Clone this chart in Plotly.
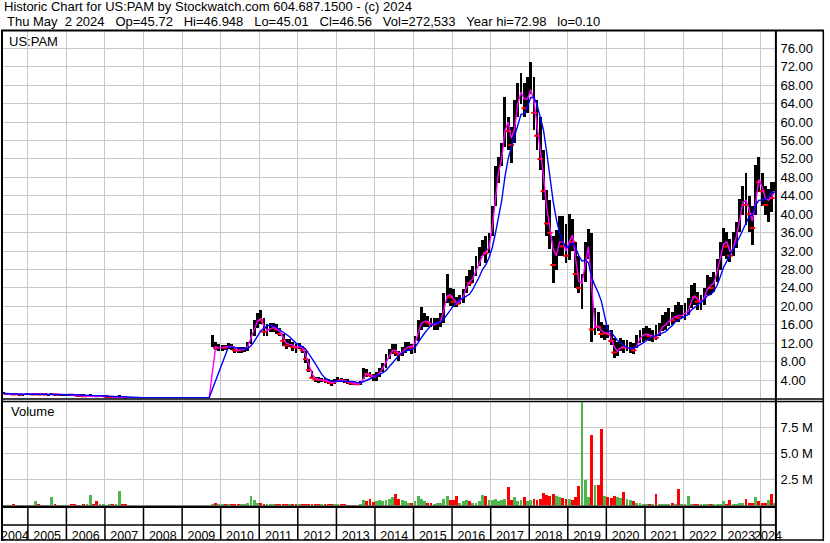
import pandas as pd
import plotly.graph_objects as go

# ---------------- data (monthly) ----------------
START_MONTH = "2004-05"
N = None
GAP = [N] * 5 + [N] * 12 + [N] * 9   # Aug 2007 .. Sep 2009: no trades

HIGH = (
    [1.4, 1.3, 1.3, 1.2, 1.2, 1.1, 1.1, 1.2] +
    [1.2, 1.2, 1.3, 1.2, 1.2, 1.1, 1.1, 1.2, 1.1, 1.1, 1.0, 1.0] +
    [1.0, 1.0, 1.0, 0.9, 0.9, 0.9, 0.8, 0.9, 0.8, 0.8, 0.8, 0.8] +
    [0.7, 0.6, 0.6, 0.6, 0.7, 0.5, 0.5] + GAP +
    [13.8, 12.2, 11.8] +
    [11.7, 11.6, 12.0, 11.8, 11.3, 11.1, 11.2, 11.2, 12.4, 15.2, 17.0, 18.6] +
    [19.3, 17.6, 16.2, 16.5, 16.5, 16.2, 15.4, 14.0, 12.9, 12.9, 12.2, 11.8] +
    [12.0, 11.5, 10.4, 8.6, 6.0, 4.8, 4.6, 4.5, 4.5, 4.2, 4.0, 4.2] +
    [4.6, 4.5, 4.2, 4.2, 3.9, 3.9, 3.7, 3.9, 6.7, 6.4, 5.8, 5.3] +
    [5.7, 6.7, 7.8, 9.6, 10.7, 11.8, 11.8, 10.4, 11.1, 12.2, 12.2, 11.8] +
    [13.5, 17.0, 19.8, 18.5, 18.0, 17.5, 17.5, 17.5, 18.5, 23.0, 27.0, 24.0] +
    [23.7, 22.0, 22.6, 23.7, 26.6, 28.0, 28.8, 31.0, 33.0, 34.5, 35.3, 36.0] +
    [41.7, 50.4, 52.5, 55.4, 65.5, 61.2, 59.0, 64.8, 68.4, 70.6, 68.4, 69.8] +
    [72.98, 69.8, 64.8, 61.2, 54.0, 45.3, 43.2, 35.3, 36.7, 39.6, 39.6, 38.0] +
    [40.0, 39.0, 34.0, 31.0, 27.0, 34.0, 36.9, 36.0, 19.6, 18.9, 16.7, 16.0] +
    [16.0, 15.0, 13.2, 12.4, 13.2, 12.8, 12.8, 12.4, 12.0, 13.9, 15.0, 15.3] +
    [15.7, 15.3, 15.0, 16.0, 16.4, 18.2, 18.9, 19.6, 18.9, 20.3, 21.0, 20.3] +
    [20.7, 21.8, 24.7, 25.0, 23.2, 22.5, 24.0, 26.8, 26.4, 27.5, 30.4, 34.0] +
    [37.0, 36.2, 34.7, 36.2, 38.3, 43.4, 46.2, 49.0, 44.0, 41.9, 50.6, 52.4] +
    [49.0, 46.2, 45.5, 47.0, 46.948]
)

LOW = (
    [0.9, 0.8, 0.8, 0.8, 0.7, 0.7, 0.7, 0.8] +
    [0.8, 0.8, 0.9, 0.8, 0.8, 0.8, 0.7, 0.8, 0.7, 0.7, 0.7, 0.7] +
    [0.7, 0.7, 0.6, 0.5, 0.5, 0.4, 0.4, 0.4, 0.4, 0.4, 0.4, 0.4] +
    [0.3, 0.3, 0.2, 0.2, 0.2, 0.2, 0.1] + GAP +
    [11.2, 10.5, 10.4] +
    [10.4, 10.5, 10.7, 10.6, 10.0, 9.9, 10.0, 10.1, 10.4, 11.8, 13.6, 15.4] +
    [16.3, 13.6, 13.6, 14.4, 14.4, 14.0, 13.6, 11.5, 10.7, 11.1, 10.4, 10.0] +
    [10.7, 10.0, 7.8, 5.7, 4.2, 3.6, 3.5, 3.6, 3.4, 3.1, 2.8, 3.1] +
    [3.6, 3.6, 3.4, 3.1, 3.0, 3.0, 2.9, 3.0, 4.2, 4.8, 4.6, 3.9] +
    [3.9, 4.8, 5.7, 6.7, 8.6, 9.6, 9.3, 8.2, 9.3, 10.0, 10.4, 9.6] +
    [10.0, 12.5, 15.0, 15.5, 15.5, 15.5, 15.0, 15.0, 15.5, 16.5, 20.8, 20.0] +
    [19.8, 19.8, 20.5, 20.8, 23.0, 24.5, 25.2, 26.6, 28.8, 31.0, 29.5, 31.7] +
    [35.3, 41.7, 46.8, 50.4, 54.7, 54.0, 51.1, 55.4, 61.2, 64.0, 61.2, 62.0] +
    [66.2, 58.3, 54.0, 49.7, 43.2, 35.3, 32.4, 25.2, 28.0, 31.0, 31.0, 29.5] +
    [30.0, 32.0, 24.0, 23.0, 19.5, 25.4, 30.4, 12.4, 13.9, 14.6, 13.2, 12.8] +
    [13.2, 11.7, 8.8, 9.2, 10.3, 10.0, 10.3, 10.0, 9.6, 11.0, 12.0, 12.4] +
    [12.8, 12.6, 12.4, 12.8, 13.5, 14.6, 15.0, 15.7, 16.0, 16.7, 16.7, 17.5] +
    [17.1, 18.2, 19.6, 20.3, 19.3, 19.3, 20.3, 22.5, 22.5, 23.2, 25.4, 28.0] +
    [31.0, 30.4, 29.7, 31.0, 32.6, 36.2, 39.8, 37.6, 36.2, 33.3, 39.8, 44.8] +
    [41.9, 39.8, 38.3, 40.5, 45.01]
)

CLOSE = (
    [1.1, 1.0, 1.0, 0.9, 0.9, 0.8, 0.9, 1.0] +
    [1.0, 0.9, 1.1, 0.9, 1.0, 0.9, 0.9, 1.0, 0.9, 0.8, 0.8, 0.9] +
    [0.9, 0.8, 0.75, 0.6, 0.6, 0.5, 0.5, 0.6, 0.55, 0.5, 0.5, 0.5] +
    [0.4, 0.4, 0.3, 0.3, 0.35, 0.3, 0.2] + GAP +
    [11.5, 11.0, 11.0] +
    [11.2, 11.0, 11.5, 11.2, 10.5, 10.4, 10.6, 10.7, 12.0, 14.6, 16.0, 17.6] +
    [17.0, 14.5, 15.0, 15.3, 15.5, 15.0, 14.0, 12.5, 11.5, 12.0, 11.2, 11.0] +
    [11.4, 10.5, 8.5, 6.2, 4.5, 4.2, 4.0, 4.0, 3.9, 3.6, 3.3, 3.6] +
    [4.1, 4.0, 3.8, 3.6, 3.3, 3.2, 3.1, 3.5, 5.5, 5.3, 5.0, 4.6] +
    [5.2, 6.0, 7.2, 8.5, 9.8, 11.0, 10.0, 9.5, 10.5, 11.0, 11.5, 11.0] +
    [13.0, 16.0, 16.5, 17.0, 16.5, 16.0, 16.0, 16.5, 17.0, 21.5, 23.0, 22.0] +
    [21.0, 20.5, 21.5, 22.5, 25.5, 25.0, 27.0, 28.5, 30.0, 32.0, 31.5, 34.0] +
    [40.0, 48.0, 50.0, 54.0, 62.0, 58.0, 55.0, 62.0, 66.0, 67.0, 63.0, 67.0] +
    [67.0, 62.0, 57.0, 52.0, 45.0, 38.0, 36.0, 29.0, 33.0, 35.0, 33.0, 31.0] +
    [37.0, 34.0, 27.0, 24.0, 26.0, 32.0, 34.0, 15.0, 16.0, 15.5, 14.0, 14.5] +
    [14.0, 12.5, 10.0, 10.5, 11.5, 11.0, 11.0, 11.0, 10.5, 12.5, 13.5, 14.0] +
    [14.0, 13.5, 13.5, 13.2, 15.0, 16.0, 16.0, 17.5, 17.0, 18.5, 17.5, 18.5] +
    [18.5, 19.5, 22.5, 22.0, 21.0, 21.0, 22.5, 25.0, 24.0, 26.0, 29.0, 32.0] +
    [35.0, 33.0, 31.0, 34.0, 36.0, 41.0, 44.0, 42.0, 40.0, 37.0, 48.0, 47.0] +
    [45.0, 42.0, 44.0, 43.5, 46.56]
)

VOLUME_M = (
    [0.05, 0.03, 0.03, 0.12, 0.03, 0.02, 0.05, 0.03] +
    [0.03, 0.05, 0.4, 0.15, 0.05, 0.03, 0.05, 0.8, 0.1, 0.05, 0.03, 0.05] +
    [0.05, 0.1, 0.15, 0.05, 0.03, 0.1, 0.1, 1.05, 0.15, 0.4, 0.2, 0.15] +
    [0.05, 0.1, 0.2, 0.1, 1.45, 0.2, 0.1] + GAP +
    [0.15, 0.25, 0.1] +
    [0.1, 0.1, 0.1, 0.15, 0.1, 0.1, 0.1, 0.1, 0.3, 0.9, 0.5, 0.3] +
    [0.3, 0.2, 0.1, 0.1, 0.1, 0.1, 0.15, 0.2, 0.2, 0.1, 0.2, 0.15] +
    [0.1, 0.15, 0.2, 0.2, 0.15, 0.1, 0.1, 0.15, 0.1, 0.2, 0.1, 0.1] +
    [0.15, 0.1, 0.1, 0.05, 0.05, 0.05, 0.05, 0.1, 0.5, 0.4, 0.6, 0.35] +
    [0.4, 0.5, 0.4, 0.5, 0.6, 0.8, 1.1, 0.6, 0.5, 0.4, 0.3, 0.25] +
    [0.4, 0.9, 0.6, 0.4, 0.3, 0.3, 0.2, 0.3, 0.3, 0.6, 0.95, 0.5] +
    [0.5, 0.9, 0.3, 0.4, 0.5, 0.4, 0.3, 0.3, 0.4, 1.05, 0.9, 0.5] +
    [0.5, 0.6, 0.4, 0.5, 0.6, 1.8, 0.5, 0.8, 0.4, 0.5, 0.8, 0.4] +
    [0.5, 0.6, 0.5, 0.6, 1.2, 1.0, 0.9, 1.1, 0.9, 0.8, 0.7, 0.6] +
    [0.6, 0.5, 0.8, 1.9, 10.5, 2.5, 0.8, 6.8, 2.0, 2.0, 7.4, 0.9] +
    [0.8, 0.7, 0.9, 0.8, 0.7, 1.3, 0.6, 0.5, 0.4, 0.3, 0.25, 0.2] +
    [0.15, 0.1, 0.1, 1.15, 0.1, 0.1, 0.1, 0.1, 0.3, 0.15, 1.6, 0.2] +
    [0.2, 0.9, 0.15, 0.15, 0.1, 0.1, 0.1, 0.15, 0.15, 0.1, 0.15, 0.2] +
    [0.4, 0.2, 0.5, 0.2, 0.2, 0.3, 0.25, 0.6, 0.3, 0.3, 0.8, 0.4] +
    [0.3, 0.3, 0.5, 1.15, 0.27]
)

PRICE_TICKS = [4, 8, 12, 16, 20, 24, 28, 32, 36, 40, 44, 48, 52, 56, 60, 64, 68, 72, 76]
VOL_TICKS = [2.5e6, 5.0e6, 7.5e6]
VOL_TICK_TEXT = ["2.5 M", "5.0 M", "7.5 M"]
YEARS = list(range(2004, 2025))
X_RANGE = ["2004-05-01", "2024-05-20"]

HEADER1 = "Historic Chart for US:PAM by Stockwatch.com 604.687.1500 - (c) 2024"
HEADER2 = ("Thu May  2 2024   Op=45.72   Hi=46.948   Lo=45.01   Cl=46.56   "
           "Vol=272,533   Year hi=72.98   lo=0.10")
SYMBOL = "US:PAM"

# ---------------- derived ----------------
W, H = 830, 543
PX = lambda x: x / W
PY = lambda y: 1 - y / H
nb = lambda s: s.replace(" ", "\u00a0")

n = len(CLOSE)
months = pd.period_range(START_MONTH, periods=n, freq="M")
dates = [p.start_time + pd.Timedelta(days=14) for p in months]

hi = pd.Series(HIGH, dtype=float)
lo = pd.Series(LOW, dtype=float)
cl = pd.Series(CLOSE, dtype=float)
vol = pd.Series(VOLUME_M, dtype=float) * 1e6
filled = cl.ffill()
ma_fast = filled.rolling(2, min_periods=1).mean()
ma_slow = filled.rolling(6, min_periods=1).mean()
prev = filled.shift(1)
up = (cl >= prev) | prev.isna()

GREEN, RED = "#4cb84c", "#ff0000"
GRID = "#c8c8c8"
FONT = "Arial, Liberation Sans, sans-serif"
bar_w = pd.Timedelta(days=27).total_seconds() * 1000
year_starts = [f"{y}-01-01" for y in YEARS[1:]]

fig = go.Figure()
fig.add_trace(go.Bar(x=dates, y=hi - lo, base=lo, width=bar_w,
                     marker=dict(color="black", line=dict(width=0)),
                     xaxis="x", yaxis="y", hoverinfo="skip"))
down = (~up) & cl.notna()
fig.add_trace(go.Scatter(x=[d for d, k in zip(dates, down) if k], y=cl[down],
                         mode="markers", marker=dict(symbol="line-ew", size=4,
                         line=dict(color=RED, width=2)),
                         xaxis="x", yaxis="y", hoverinfo="skip"))
fig.add_trace(go.Scatter(x=dates, y=ma_fast, mode="lines",
                         line=dict(color="#ff00ff", width=1.4),
                         xaxis="x", yaxis="y", hoverinfo="skip"))
fig.add_trace(go.Scatter(x=dates, y=ma_slow, mode="lines",
                         line=dict(color="#0000ff", width=1.4),
                         xaxis="x", yaxis="y", hoverinfo="skip"))
fig.add_trace(go.Bar(x=dates, y=vol, width=bar_w,
                     marker=dict(color=[GREEN if u else RED for u in up], line=dict(width=0)),
                     xaxis="x", yaxis="y2", hoverinfo="skip"))

# year label positions: centre of each year cell inside the visible range
r0, r1 = pd.Timestamp(X_RANGE[0]), pd.Timestamp(X_RANGE[1])
label_pos = []
for yv in YEARS:
    a = max(r0, pd.Timestamp(f"{yv}-01-01"))
    b = min(r1, pd.Timestamp(f"{yv + 1}-01-01"))
    label_pos.append(a + (b - a) / 2)
fig.add_trace(go.Scatter(x=label_pos, y=[None] * len(label_pos), mode="markers",
                         xaxis="x2", yaxis="y3", hoverinfo="skip"))

axis_font = dict(family=FONT, size=13, color="black")
fig.update_layout(
    width=W, height=H, margin=dict(l=0, r=0, t=0, b=0, pad=0),
    paper_bgcolor="white", plot_bgcolor="rgba(0,0,0,0)", showlegend=False,
    barmode="overlay", bargap=0,
    xaxis=dict(type="date", domain=[PX(1), PX(781)], range=X_RANGE, anchor="y2",
               tickmode="array", tickvals=year_starts, showticklabels=False, ticks="",
               showgrid=True, gridcolor=GRID, gridwidth=1, zeroline=False, showline=False),
    xaxis2=dict(type="date", domain=[PX(1), PX(781)], range=X_RANGE, anchor="y3",
                tickmode="array", tickvals=label_pos, ticktext=[str(y) for y in YEARS],
                tickangle=0, ticks="", showgrid=False, zeroline=False, showline=False,
                ticklabelstandoff=0,
                tickfont=dict(family=FONT, size=12.5, color="black")),
    yaxis=dict(domain=[PY(400), PY(31)], range=[0, 79.78], side="right", anchor="x",
               tickmode="array", tickvals=PRICE_TICKS, ticktext=[f"{v:.2f}" for v in PRICE_TICKS],
               showgrid=True, gridcolor=GRID, gridwidth=1, zeroline=False, ticks="",
               tickfont=axis_font, ticklabelstandoff=4),
    yaxis2=dict(domain=[PY(507), PY(403)], range=[0, 10e6], side="right", anchor="x",
                tickmode="array", tickvals=VOL_TICKS, ticktext=VOL_TICK_TEXT,
                showgrid=True, gridcolor=GRID, gridwidth=1, zeroline=False, ticks="",
                tickfont=axis_font, ticklabelstandoff=4),
    yaxis3=dict(domain=[PY(528), PY(520)], range=[0, 1], anchor="x2", visible=False),
)

# frame lines of the stockwatch layout
shapes = []
def hline(y, x0, x1, w):
    shapes.append(dict(type="line", xref="paper", yref="paper", x0=PX(x0), x1=PX(x1),
                       y0=PY(y), y1=PY(y), line=dict(color="black", width=w), layer="above"))
def vline(x, y0, y1, w):
    shapes.append(dict(type="line", xref="paper", yref="paper", x0=PX(x), x1=PX(x),
                       y0=PY(y0), y1=PY(y1), line=dict(color="black", width=w), layer="above"))
hline(30.5, 0, 830, 2)
hline(400.5, 0, 830, 1.5)
hline(403, 0, 830, 1.5)
hline(508.5, 0, 781.5, 2.5)
hline(527, 0, 781.5, 1.5)
hline(542, 0, 830, 1.5)
vline(1, 30, 543, 2)
vline(781.5, 30, 543, 2)
vline(829.3, 30, 543, 1.5)
for ys in year_starts:
    shapes.append(dict(type="line", xref="x", yref="paper", x0=ys, x1=ys,
                       y0=PY(508), y1=PY(542), line=dict(color="black", width=1.5), layer="above"))
fig.update_layout(shapes=shapes)

def label(text, x, y):
    fig.add_annotation(text=nb(text), x=PX(x), y=PY(y), xref="paper", yref="paper",
                       xanchor="left", yanchor="middle", showarrow=False,
                       font=dict(family=FONT, size=13, color="black"))
label(HEADER1, 1, 7)
label(HEADER2, 4, 21.5)
label(SYMBOL, 6, 41.5)
label("Volume", 8, 413)

fig.write_html("out.html", config={"displayModeBar": False},
               post_script="document.body.style.margin='0';")
